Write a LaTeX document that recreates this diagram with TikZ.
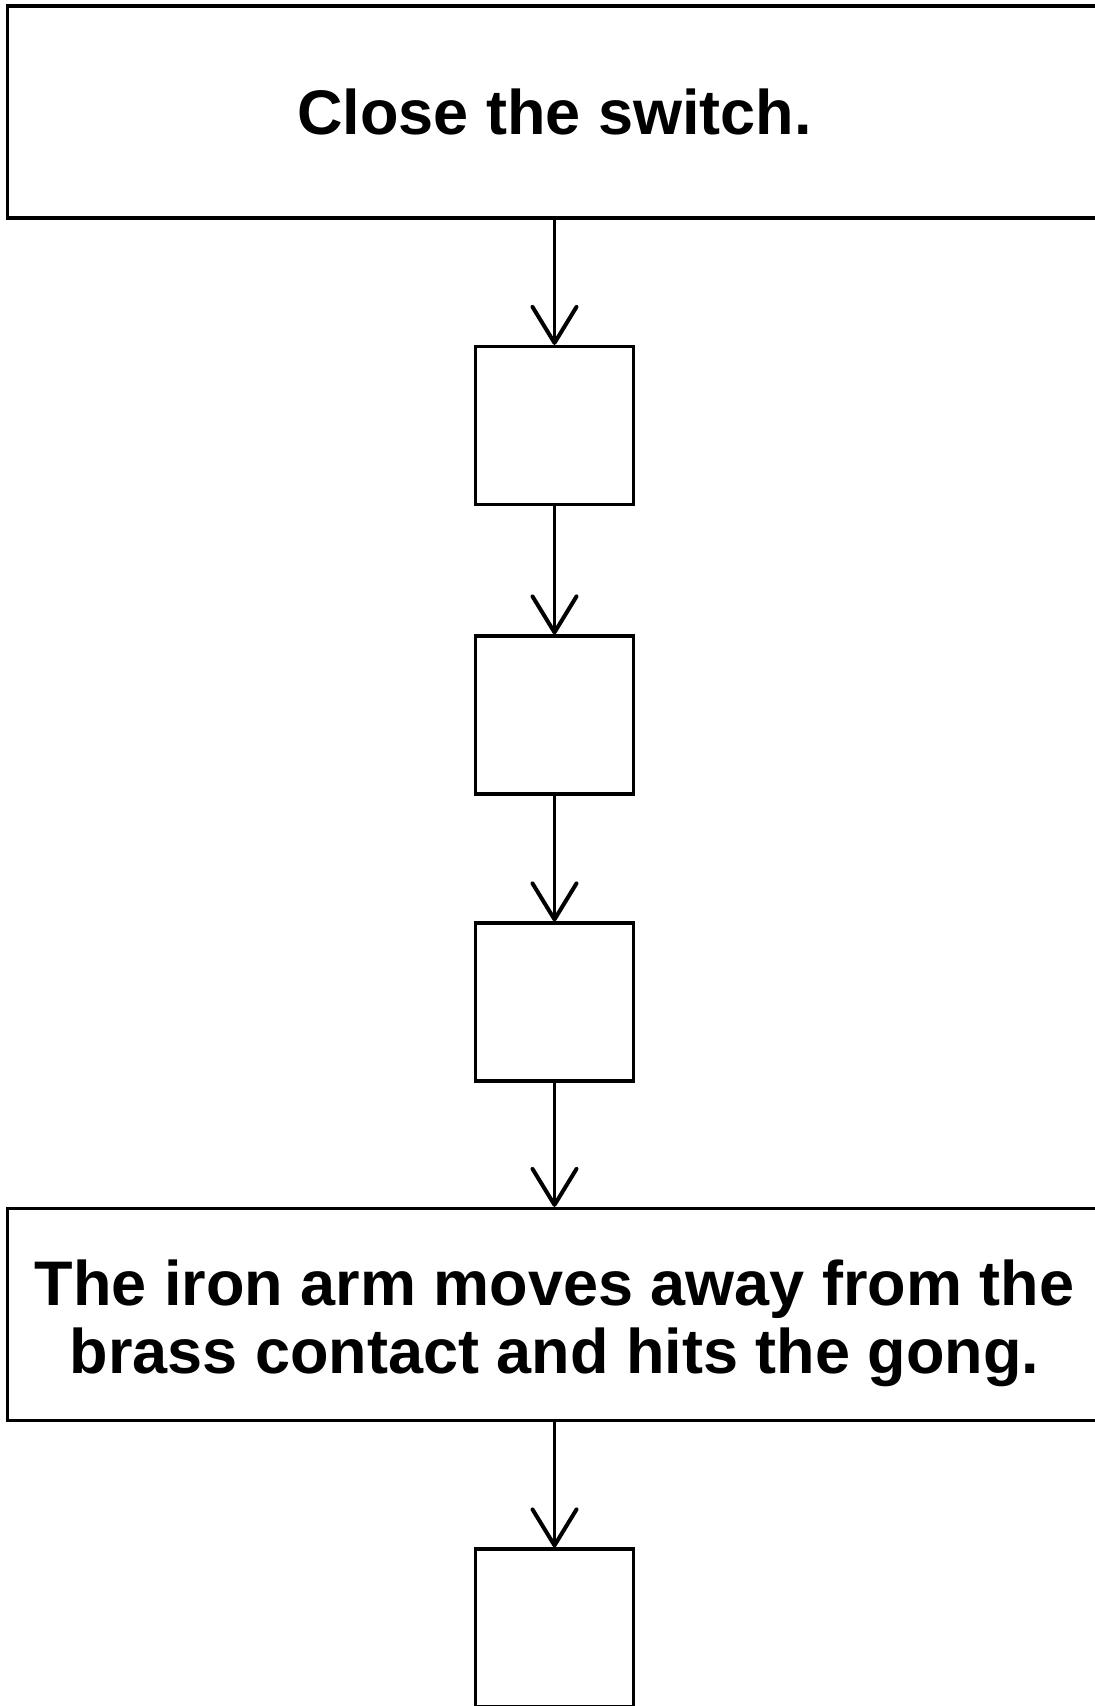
\documentclass[tikz,border=0pt]{standalone}
\usepackage{fontspec}
\setmainfont{Liberation Sans}
\usetikzlibrary{arrows, arrows.meta}
\tikzset{stepbox/.style={draw, line width=3.2pt, minimum width=1094pt, minimum height=212pt,
           align=center, inner sep=0pt, font=\fontsize{63}{68}\selectfont\bfseries}}
\tikzset{blankbox/.style={draw, line width=3.2pt, minimum size=158pt, inner sep=0pt}}
\tikzset{flow/.style={line width=2.4pt,
           -{Straight Barb[length=36pt, width=44pt, line width'=4pt, round]}}}

\begin{document}
\begin{tikzpicture}[x=1pt, y=-1pt]
    \useasboundingbox (0,0) rectangle (1095,1706);
    \clip (0,0) rectangle (1095,1706);
    %\draw[help lines, step=100] (0,0) grid (1095,1706);
    \node[stepbox] (close) at (554.5,112) {Close the switch.};
    \foreach \n/\y in {blank1/425.5, blank2/715, blank3/1002}
      \node[blankbox] (\n) at (554.5,\y) {};
    % the strut pushes both lines a bit lower, as in the original
    \node[stepbox] (arm) at (554.5,1314.5)
      {\rule{0pt}{63pt}The iron arm moves away from the\\brass contact and hits the gong.};
    \node[blankbox] (blank4) at (554.5,1628) {};

    % the chain of arrows
    \foreach \a/\b in {close/blank1, blank1/blank2, blank2/blank3, blank3/arm, arm/blank4}
      \draw[flow] (\a) -- (\b);
\end{tikzpicture}
\end{document}
